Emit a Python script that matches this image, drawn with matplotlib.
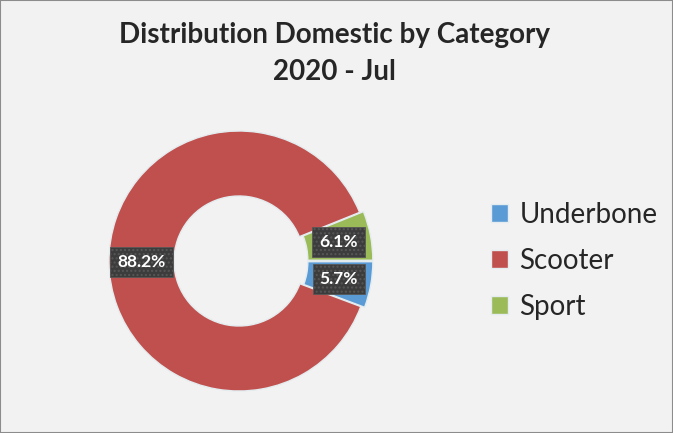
import matplotlib
matplotlib.use('Agg')
import matplotlib.pyplot as plt
from matplotlib.patches import Rectangle

# Chart data
categories = ['Underbone', 'Scooter', 'Sport']
shares = [5.7, 88.2, 6.1]
colors = ['#5b9bd5', '#c0504d', '#9bbb59']
title_lines = ['Distribution Domestic by Category', '2020 - Jul']

plt.rcParams['font.family'] = ['Lato', 'DejaVu Sans']

fig = plt.figure(figsize=(6.73, 4.33), dpi=100)
fig.patch.set_facecolor('#f2f2f2')

# pie axes placed so the ring centre sits near (239, 261) px
W, H = 673, 433
cx, cy, half = 239, H - 261, 143
ax = fig.add_axes([(cx - half) / W, (cy - half) / H, 2 * half / W, 2 * half / H])
ax.set_facecolor('#f2f2f2')

wedges, texts, autotexts = ax.pie(
    shares, colors=colors, startangle=0, counterclock=False,
    explode=[0.03, 0, 0.03], radius=1.0,
    wedgeprops=dict(width=0.5, edgecolor='#e4ecef', linewidth=1),
    autopct='%1.1f%%', pctdistance=0.75,
    textprops=dict(color='white', fontsize=12.5, fontweight='bold'))

# dark dotted label boxes like the Excel data labels
for t in autotexts:
    t.set_bbox(dict(boxstyle='square,pad=0.4', facecolor='#3c3c3c',
                    edgecolor='#575757', hatch='....', linewidth=0.6))

ax.set_xlim(-1.1, 1.1)
ax.set_ylim(-1.1, 1.1)
ax.set_aspect('equal')
ax.axis('off')

fig.text(0.497, 1 - 35 / H, title_lines[0], ha='center', va='center',
         fontsize=20, fontweight='bold', color='#262626')
fig.text(0.497, 1 - 72 / H, title_lines[1], ha='center', va='center',
         fontsize=20, fontweight='bold', color='#262626')

leg = fig.legend(wedges, categories, loc='center left',
                 bbox_to_anchor=(491 / W, 1 - 261 / H), frameon=False,
                 fontsize=20, handlelength=0.62, handleheight=0.62,
                 handletextpad=0.4, labelspacing=0.72,
                 borderpad=0, borderaxespad=0)
for txt in leg.get_texts():
    txt.set_color('#262626')

# thin frame around the chart area
fig.patches.append(Rectangle((0, 0), 1, 1, transform=fig.transFigure,
                             fill=False, edgecolor='#8c8c8c', linewidth=1.5))

fig.savefig('out.png', dpi=100, facecolor=fig.get_facecolor())
